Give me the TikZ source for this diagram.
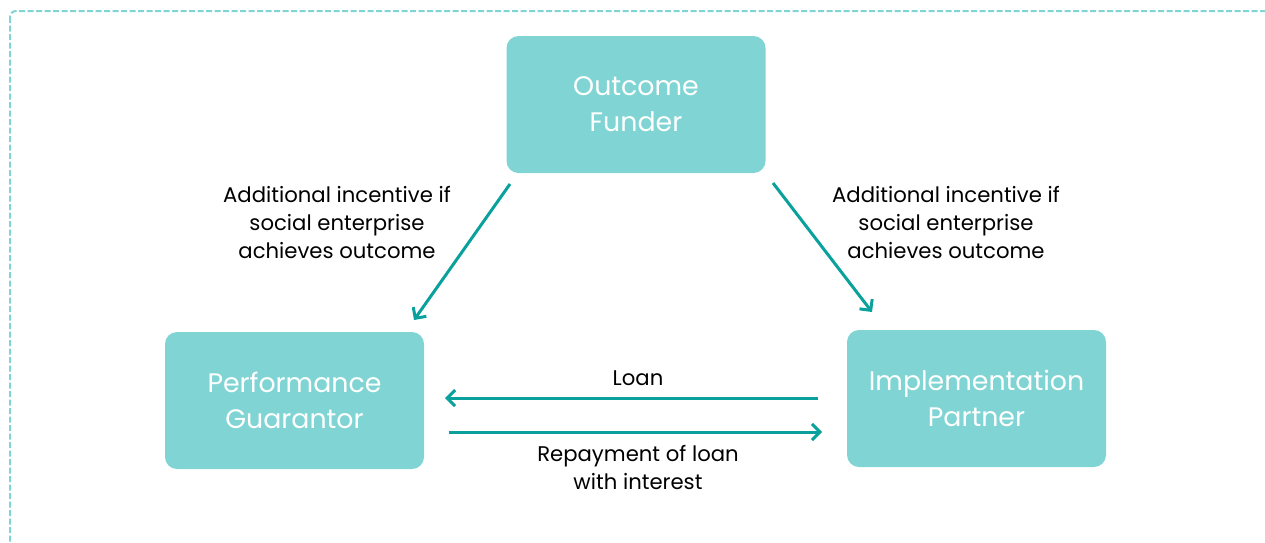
\documentclass[tikz,border=0pt]{standalone}
\usepackage{fontspec}
\setmainfont{Poppins}
\usetikzlibrary{arrows.meta}
\definecolor{boxteal}{HTML}{80D5D4}
\definecolor{arrteal}{HTML}{0AA19D}
\tikzset{
  actor/.style={fill=boxteal, rounded corners=12pt, text=white, align=center,
    font=\fontsize{26.8}{36}\selectfont, minimum width=259pt, minimum height=137pt, inner sep=0pt},
  flow/.style={draw=arrteal, line width=3pt, -{Straight Barb[length=8pt,width=16pt,line width=3pt]}},
  lbl/.style={text=black, align=center, font=\fontsize{21.2}{28}\selectfont, inner sep=0pt}
}
\begin{document}
\begin{tikzpicture}[x=1pt,y=-1pt]
\useasboundingbox (0,0) rectangle (1265,542);
\begin{scope}
\clip (0,0) rectangle (1265,542);
\draw[boxteal, line width=2pt, dash pattern=on 6pt off 2.5pt, rounded corners=6pt] (10,11) rectangle (1300,580);
\end{scope}
\node[actor] (of) at (636,104.5) {Outcome\\Funder};
\node[actor] (pg) at (294.5,400.5) {Performance\\Guarantor};
\node[actor] (ip) at (976.5,398.5) {Implementation\\Partner};
\coordinate (a1s) at (510,184);
\coordinate (a1e) at (414,320);
\coordinate (a2s) at (773,183);
\coordinate (a2e) at (872,312);
\coordinate (l1s) at (818,398);
\coordinate (l1e) at (445,398);
\coordinate (l2s) at (449,432);
\coordinate (l2e) at (822,432);
\draw[flow] (a1s) -- (a1e);
\draw[flow] (a2s) -- (a2e);
\draw[flow] (l1s) -- (l1e);
\draw[flow] (l2s) -- (l2e);
\node[lbl] (t1) at (337,222) {Additional incentive if\\social enterprise\\achieves outcome};
\node[lbl] (t2) at (946,222) {Additional incentive if\\social enterprise\\achieves outcome};
\node[lbl] (t3) at (638,378) {Loan};
\node[lbl] (t4) at (638,467) {Repayment of loan\\with interest};
\end{tikzpicture}
\end{document}
